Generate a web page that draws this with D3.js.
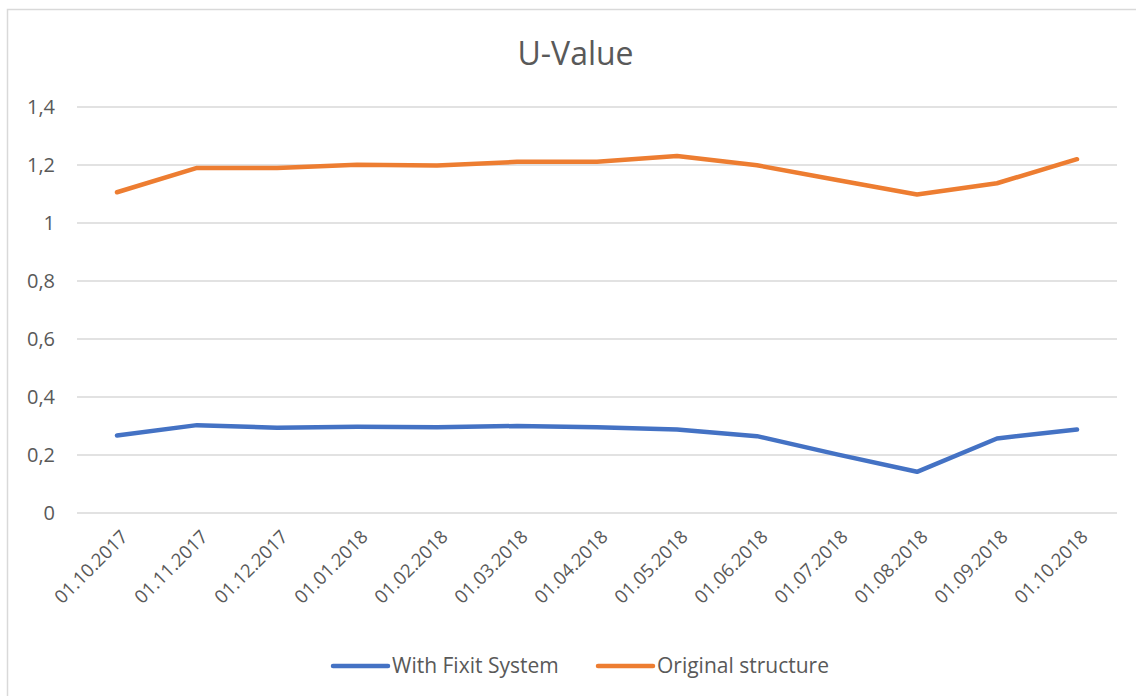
<!DOCTYPE html>
<html><head><meta charset="utf-8">
<script src="https://cdn.jsdelivr.net/npm/d3@7/dist/d3.min.js"></script>
<style>html,body{margin:0;padding:0;background:#fff;}svg{display:block;}text{font-family:"Open Sans",sans-serif;fill:#595959;}</style>
</head><body>
<svg id="c" width="1136" height="696"></svg>
<script>
const title = "U-Value";
const categories = ["01.10.2017","01.11.2017","01.12.2017","01.01.2018","01.02.2018","01.03.2018","01.04.2018","01.05.2018","01.06.2018","01.07.2018","01.08.2018","01.09.2018","01.10.2018"];
const seriesNames = ["With Fixit System","Original structure"];
const withFixit = [0.267,0.303,0.294,0.297,0.296,0.300,0.296,0.288,0.265,0.202,0.142,0.257,0.288];
const original = [1.106,1.190,1.190,1.201,1.198,1.211,1.211,1.231,1.199,1.148,1.098,1.137,1.220];
const yTicks = [0,0.2,0.4,0.6,0.8,1,1.2,1.4];
const colors = ["#4472C4","#ED7D31"];

const svg = d3.select("#c");
svg.append("rect").attr("x",7.5).attr("y",9.5).attr("width",1300).attr("height",900)
  .attr("fill","#fff").attr("stroke","#d9d9d9").attr("stroke-width",1.5);

const x = d3.scaleBand().domain(categories).range([77,1117]);
const y = d3.scaleLinear().domain([0,1.4]).range([513,107]);
const fmt = v => String(+v.toFixed(1)).replace(".",",");

// gridlines
svg.append("g").selectAll("line").data(yTicks).join("line")
  .attr("x1",77).attr("x2",1117)
  .attr("y1",d=>y(d)).attr("y2",d=>y(d))
  .attr("stroke","#d9d9d9").attr("stroke-width",1.5);

// y axis labels
const ya = svg.append("g").attr("transform","translate(55,0)")
  .call(d3.axisLeft(y).tickValues(yTicks).tickFormat(fmt).tickSize(0).tickPadding(0));
ya.select(".domain").remove();
ya.selectAll("text").attr("font-size",20).attr("fill","#595959").attr("font-family","Open Sans");

// x axis labels
const xa = svg.append("g").attr("transform","translate(0,513)")
  .call(d3.axisBottom(x).tickSize(0).tickPadding(0));
xa.select(".domain").remove();
xa.selectAll("text").attr("font-size",18.5).attr("fill","#595959").attr("font-family","Open Sans")
  .attr("text-anchor","end").attr("dy",null).attr("y",0)
  .attr("transform","translate(12,25) rotate(-45)");

// lines
const line = d3.line().x((d,i)=>x(categories[i])+x.bandwidth()/2).y(d=>y(d));
[withFixit, original].forEach((s,k)=>{
  svg.append("path").datum(s).attr("d",line).attr("fill","none")
    .attr("stroke",colors[k]).attr("stroke-width",4.5)
    .attr("stroke-linecap","round").attr("stroke-linejoin","round");
});

// title
svg.append("text").attr("x",575.5).attr("y",65).attr("text-anchor","middle")
  .attr("font-size",32).text(title);

// legend
const legX = [333,598];
seriesNames.forEach((n,k)=>{
  svg.append("line").attr("x1",legX[k]).attr("x2",legX[k]+55).attr("y1",666).attr("y2",666)
    .attr("stroke",colors[k]).attr("stroke-width",4.5).attr("stroke-linecap","round");
  svg.append("text").attr("x",legX[k]+59).attr("y",673).attr("font-size",21).text(n);
});
</script>
</body></html>
